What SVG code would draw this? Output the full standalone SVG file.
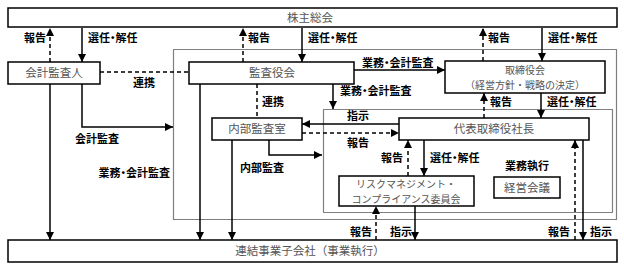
<svg xmlns="http://www.w3.org/2000/svg" width="624" height="271" viewBox="0 0 624 271">
<defs>
<marker id="ah" viewBox="0 0 10 10" refX="10" refY="5" markerWidth="8" markerHeight="8" orient="auto" markerUnits="userSpaceOnUse"><path d="M0,0 L10,5 L0,10 z" fill="#000"/></marker>
<style>
.box{fill:#fff;stroke:#000;stroke-width:1.5}
.bt{font-family:"Noto Sans CJK JP","Noto Sans",sans-serif;font-size:11.5px;fill:#555;text-anchor:middle}
.bt2{font-family:"Noto Sans CJK JP","Noto Sans",sans-serif;font-size:10px;fill:#555;text-anchor:middle}
.lb{font-family:"Noto Sans CJK JP","Noto Sans",sans-serif;font-size:11px;font-weight:bold;fill:#000;font-feature-settings:"palt"}
.ln{fill:none;stroke:#000;stroke-width:1.5}
.ds{fill:none;stroke:#000;stroke-width:1.5;stroke-dasharray:4,3}
.dot{fill:none;stroke:#000;stroke-width:1.2;stroke-dasharray:1,1}
</style>
</defs>
<rect width="624" height="271" fill="#fff"/>
<g id="areas">
<rect class="dot" x="173.5" y="49.5" width="443" height="170"/>
<rect class="dot" x="323.5" y="109.5" width="289" height="103"/>
</g>
<g id="connectors">
<path class="ds" d="M50,62V28" marker-end="url(#ah)"/>
<path class="ln" d="M82,28V62" marker-end="url(#ah)"/>
<path class="ds" d="M243,62V28" marker-end="url(#ah)"/>
<path class="ln" d="M302,28V62" marker-end="url(#ah)"/>
<path class="ds" d="M483,61V28" marker-end="url(#ah)"/>
<path class="ln" d="M542,28V61" marker-end="url(#ah)"/>
<path class="ds" d="M100,72H189"/>
<path class="ln" d="M354,70H445" marker-end="url(#ah)"/>
<path class="ln" d="M333,84V109" marker-end="url(#ah)"/>
<path class="ds" d="M257,84V118"/>
<path class="ds" d="M484,118V93" marker-end="url(#ah)"/>
<path class="ln" d="M541,93V118" marker-end="url(#ah)"/>
<path class="ln" d="M399,124H302" marker-end="url(#ah)"/>
<path class="ds" d="M302,133H399" marker-end="url(#ah)"/>
<path class="ln" d="M269,140V155H322" marker-end="url(#ah)"/>
<path class="ln" d="M82,84V127H173" marker-end="url(#ah)"/>
<path class="ln" d="M50,84V240" marker-end="url(#ah)"/>
<path class="ln" d="M200,84V240" marker-end="url(#ah)"/>
<path class="ln" d="M232,140V240" marker-end="url(#ah)"/>
<path class="ds" d="M408,176V140" marker-end="url(#ah)"/>
<path class="ln" d="M424,140V176" marker-end="url(#ah)"/>
<path class="ds" d="M376,240V206" marker-end="url(#ah)"/>
<path class="ln" d="M415,206V240" marker-end="url(#ah)"/>
<path class="ds" d="M575,240V140" marker-end="url(#ah)"/>
<path class="ln" d="M583,140V240" marker-end="url(#ah)"/>
</g>
<g id="labels">
<text class="lb" x="24" y="42">報告</text>
<text class="lb" x="88" y="42">選任・解任</text>
<text class="lb" x="248" y="42">報告</text>
<text class="lb" x="308" y="42">選任・解任</text>
<text class="lb" x="488" y="42">報告</text>
<text class="lb" x="548" y="42">選任・解任</text>
<text class="lb" x="133" y="87">連携</text>
<text class="lb" x="362" y="67">業務・会計監査</text>
<text class="lb" x="340" y="95">業務・会計監査</text>
<text class="lb" x="262" y="106">連携</text>
<text class="lb" x="490" y="106">報告</text>
<text class="lb" x="547" y="106">選任・解任</text>
<text class="lb" x="347" y="120">指示</text>
<text class="lb" x="347" y="147">報告</text>
<text class="lb" x="75" y="143">会計監査</text>
<text class="lb" x="240" y="172">内部監査</text>
<text class="lb" x="170" y="177" text-anchor="end">業務・会計監査</text>
<text class="lb" x="403" y="162" text-anchor="end">報告</text>
<text class="lb" x="430" y="162">選任・解任</text>
<text class="lb" x="505" y="170">業務執行</text>
<text class="lb" x="372" y="236" text-anchor="end">報告</text>
<text class="lb" x="390" y="236">指示</text>
<text class="lb" x="570" y="236" text-anchor="end">報告</text>
<text class="lb" x="590" y="236">指示</text>
</g>
<g id="n-shareholders"><rect class="box" x="8" y="8" width="609" height="19"/><text class="bt" x="310" y="22">株主総会</text></g>
<g id="n-auditor"><rect class="box" x="8" y="62" width="92" height="22"/><text class="bt" x="54" y="77">会計監査人</text></g>
<g id="n-audit-board"><rect class="box" x="189" y="62" width="165" height="22"/><text class="bt" x="272" y="77">監査役会</text></g>
<g id="n-board"><rect class="box" x="445" y="61" width="160" height="32"/><text class="bt2"><tspan x="525" y="74">取締役会</tspan><tspan x="525" y="88.5">（経営方針・戦略の決定）</tspan></text></g>
<g id="n-internal-audit"><rect class="box" x="212" y="118" width="90" height="22"/><text class="bt" x="257" y="133">内部監査室</text></g>
<g id="n-president"><rect class="box" x="399" y="118" width="190" height="22"/><text class="bt" x="494" y="133">代表取締役社長</text></g>
<g id="n-risk"><rect class="box" x="339" y="176" width="135" height="30"/><text class="bt2"><tspan x="406" y="188">リスクマネジメント・</tspan><tspan x="406" y="202.5">コンプライアンス委員会</tspan></text></g>
<g id="n-mgmt"><rect class="box" x="494" y="177" width="66" height="21"/><text class="bt" x="527" y="191.5">経営会議</text></g>
<g id="n-subsidiaries"><rect class="box" x="8" y="240" width="609" height="22"/><text class="bt" x="310" y="255">連結事業子会社（事業執行）</text></g>
</svg>
